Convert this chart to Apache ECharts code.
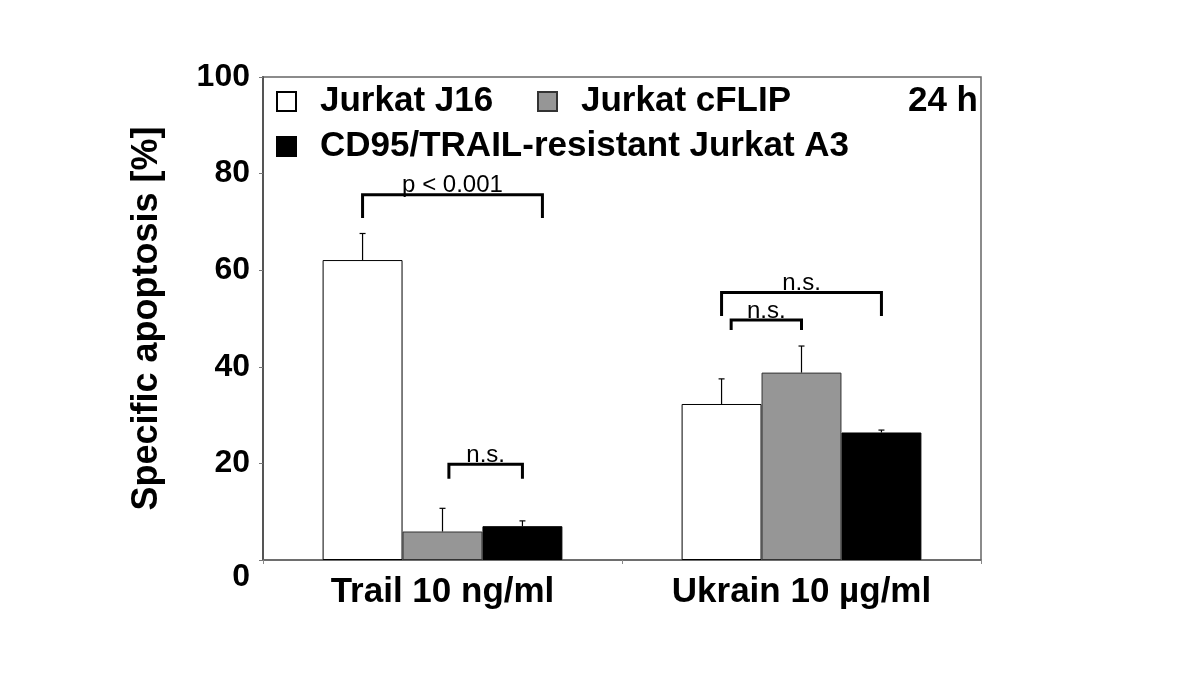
<!DOCTYPE html>
<html><head><meta charset="utf-8">
<script src="https://cdn.jsdelivr.net/npm/echarts@6/dist/echarts.min.js"></script>
<style>html,body{margin:0;padding:0;background:#fff}#c{width:1200px;height:696px}</style>
</head><body><div id="c"></div>
<script>
// ---- data ----
const categories = ['Trail 10 ng/ml', 'Ukrain 10 µg/ml'];
const seriesNames = ['Jurkat J16', 'Jurkat cFLIP', 'CD95/TRAIL-resistant Jurkat A3'];
const j16 = [62.1, 32.3];
const cflip = [5.9, 38.8];
const a3 = [7.0, 26.4];
const j16Err = [5.5, 5.2];
const cflipErr = [4.8, 5.5];
const a3Err = [1.1, 0.5];
const yTicks = [0, 20, 40, 60, 80, 100];
const timeLabel = '24 h';
// significance brackets: category, first bar, last bar, bracket height, foot height, label
const bracketCats = [0, 0, 1, 1];
const bracketFrom = [0, 1, 0, 0];
const bracketTo = [2, 2, 2, 1];
const bracketTop = [75.6, 19.8, 55.4, 49.7];
const bracketFoot = [70.8, 16.8, 50.5, 47.6];
const bracketLabels = ['p < 0.001', 'n.s.', 'n.s.', 'n.s.'];

// ---- styling ----
const FONT = '"Liberation Sans", Arial, Helvetica, sans-serif';
const CAT_GAP = 0.332;
const bracketNudge = [[0, 0.25], [0.08, 0], [0, 0], [0.12, 0]]; // in bar widths
const colors = ['#ffffff', '#969696', '#000000'];
const borders = ['#000000', '#333333', '#000000'];
const values = [j16, cflip, a3];
const errs = [j16Err, cflipErr, a3Err];

const chart = echarts.init(document.getElementById('c'), null, {renderer: 'canvas'});

function barGeom(api, cat, bi) {
  const band = api.size([1, 0])[0];
  const bw = band * (1 - CAT_GAP) / 3;
  const c = api.coord([cat, 0]);
  return {x: c[0] + (bi - 1) * bw, bw: bw};
}

const barSeries = seriesNames.map((n, i) => ({
  name: n, type: 'bar', data: values[i],
  barGap: '0%', barCategoryGap: (CAT_GAP * 100) + '%',
  itemStyle: {color: colors[i], borderColor: borders[i], borderWidth: 1},
  z: 2
}));

const errSeries = seriesNames.map((n, i) => ({
  type: 'custom', name: n + ' err', z: 3, silent: true,
  data: values[i].map((v, k) => [k, v, errs[i][k]]),
  renderItem: function (params, api) {
    const cat = api.value(0), v = api.value(1), e = api.value(2);
    const g = barGeom(api, cat, i);
    const y0 = api.coord([cat, v])[1];
    const y1 = api.coord([cat, v + e])[1];
    const st = {stroke: '#000', lineWidth: 1.2};
    return {type: 'group', children: [
      {type: 'line', shape: {x1: g.x, y1: y0, x2: g.x, y2: y1}, style: st},
      {type: 'line', shape: {x1: g.x - 3, y1: y1, x2: g.x + 3, y2: y1}, style: st}
    ]};
  }
}));

const bracketSeries = {
  type: 'custom', name: 'brackets', z: 4, silent: true,
  data: bracketCats.map((c, k) => [c, bracketTop[k]]),
  renderItem: function (params, api) {
    const k = params.dataIndex;
    const cat = bracketCats[k];
    const a = barGeom(api, cat, bracketFrom[k]);
    const b = barGeom(api, cat, bracketTo[k]);
    const xa = a.x + bracketNudge[k][0] * a.bw;
    const xb = b.x + bracketNudge[k][1] * b.bw;
    const yt = api.coord([cat, bracketTop[k]])[1];
    const yf = api.coord([cat, bracketFoot[k]])[1];
    const st = {stroke: '#000', lineWidth: 3, fill: null};
    return {type: 'group', children: [
      {type: 'polyline', shape: {points: [[xa, yf], [xa, yt], [xb, yt], [xb, yf]]}, style: st},
      {type: 'text', style: {text: bracketLabels[k], x: (xa + xb) / 2, y: yt + 3,
        align: 'center', verticalAlign: 'bottom', fill: '#000',
        font: '24px ' + FONT}}
    ]};
  }
};

const legendBase = {
  orient: 'horizontal', itemWidth: 19, itemHeight: 19, icon: 'rect', padding: 0,
  textStyle: {fontFamily: FONT, fontWeight: 'bold', fontSize: 35, color: '#000', padding: [0, 0, 0, 19]},
  selectedMode: false
};

const option = {
  backgroundColor: '#fff',
  animation: false,
  title: {text: timeLabel, right: 222, top: 84, padding: 0,
    textStyle: {fontFamily: FONT, fontWeight: 'bold', fontSize: 35, color: '#000'}},
  legend: [
    Object.assign({}, legendBase, {data: [seriesNames[0]], left: 276, top: 84}),
    Object.assign({}, legendBase, {data: [seriesNames[1]], left: 537, top: 84}),
    Object.assign({}, legendBase, {data: [seriesNames[2]], left: 276, top: 129})
  ],
  grid: {left: 263, right: 219, top: 77, bottom: 136, show: true, borderColor: '#666', borderWidth: 1.5, containLabel: false},
  xAxis: {
    type: 'category', data: categories,
    axisLine: {lineStyle: {color: '#666', width: 1.5}},
    axisTick: {show: true, length: 4, lineStyle: {color: '#888'}},
    axisLabel: {fontFamily: FONT, fontWeight: 'bold', fontSize: 35, color: '#000', margin: 15}
  },
  yAxis: {
    type: 'value', min: yTicks[0], max: yTicks[yTicks.length - 1], interval: yTicks[1] - yTicks[0],
    name: 'Specific apoptosis [%]', nameLocation: 'middle', nameRotate: 90, nameGap: 98,
    nameTextStyle: {fontFamily: FONT, fontWeight: 'bold', fontSize: 36, color: '#000'},
    splitLine: {show: false},
    axisLine: {show: true, lineStyle: {color: '#555', width: 2}},
    axisTick: {show: true, length: 4, lineStyle: {color: '#777'}},
    axisLabel: {fontFamily: FONT, fontWeight: 'bold', fontSize: 32, color: '#000', margin: 13,
      formatter: v => v === 0 ? '{z|0}' : String(v),
      rich: {z: {fontFamily: FONT, fontWeight: 'bold', fontSize: 32, color: '#000', padding: [34, 0, 0, 0]}}}
  },
  series: [].concat(barSeries, errSeries, [bracketSeries])
};
chart.setOption(option);
</script>
</body></html>
